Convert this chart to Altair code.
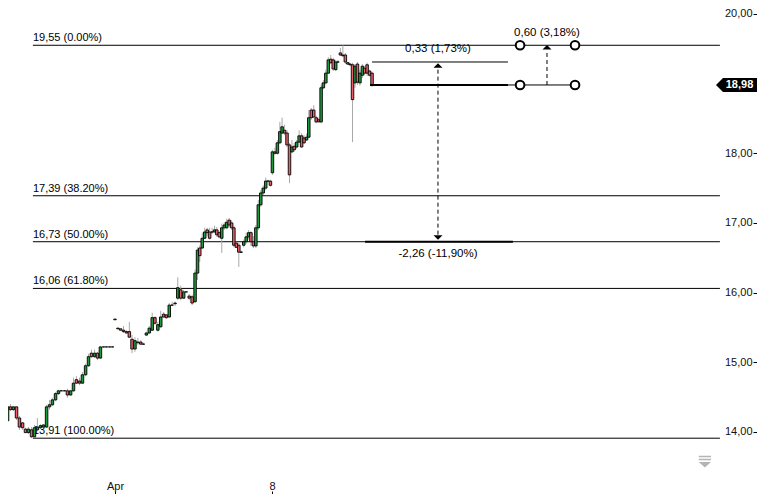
import altair as alt
import pandas as pd

# ---- candle data (time in days since Mar 26; Apr 1 = 6, Apr 8 = 13) ----
t = [0.94, 1.07, 1.21, 1.34, 1.47, 1.61, 1.74, 1.88, 2.01, 2.14,
     2.28, 2.41, 2.54, 2.68, 2.81, 2.95, 3.08, 3.21, 3.35, 3.48,
     3.61, 3.75, 3.88, 4.02, 4.15, 4.28, 4.42, 4.55, 4.69, 4.82,
     4.95, 5.09, 5.22, 5.35, 5.49, 5.62, 5.76, 5.89,
     6.00, 6.13, 6.25, 6.38, 6.51, 6.64, 6.76, 6.89, 7.02, 7.15,
     7.27, 7.40, 7.53, 7.66, 7.78, 7.91, 8.04, 8.17, 8.29, 8.42,
     8.55, 8.68, 8.80, 8.93, 9.06, 9.18, 9.31, 9.44, 9.57,
     9.68, 9.78, 9.89, 10.00, 10.11, 10.22, 10.33, 10.44, 10.54, 10.65,
     10.76, 10.87, 10.98, 11.09, 11.20, 11.30, 11.41, 11.52, 11.63, 11.74,
     11.85, 11.96, 12.06, 12.17, 12.28, 12.39, 12.50, 12.61, 12.72, 12.82, 12.93,
     13.02, 13.13, 13.24, 13.35, 13.45, 13.56, 13.67, 13.78, 13.89, 13.99,
     14.10, 14.21, 14.32, 14.43, 14.54, 14.64, 14.75, 14.86, 14.97, 15.08,
     15.19, 15.29, 15.40, 15.51, 15.62, 15.73, 15.84, 15.94, 16.05, 16.16,
     16.27, 16.38, 16.48, 16.59, 16.70, 16.81, 16.92, 17.03, 17.13, 17.24,
     17.35, 17.46, 17.57]

open_ = [14.11, 14.11, 14.16, 14.36, 14.32, 14.36, 14.20, 14.13, 14.04, 13.99,
         14.03, 13.93, 14.03, 14.06, 14.07, 14.07, 14.36, 14.39, 14.46, 14.55,
         14.59, 14.59, 14.59, 14.53, 14.59, 14.75, 14.73, 14.70, 14.82, 14.95,
         15.13, 15.08, 15.13, 15.06, 15.22, 15.22, 15.22, 15.22,
         15.62, 15.49, 15.48, 15.46, 15.44, 15.44, 15.33, 15.19, 15.28, 15.29,
         15.26, 15.39, 15.42, 15.46, 15.64, 15.46, 15.51, 15.69, 15.68, 15.65,
         15.82, 15.84, 15.92, 16.04, 15.92, 16.01, 15.95, 15.94, 15.87,
         16.28, 16.64, 16.64, 16.78, 16.90, 16.87, 16.87, 16.87, 16.90, 16.86,
         16.78, 16.93, 16.93, 17.04, 17.00, 16.93, 16.71, 16.68, 16.58, 16.68,
         16.73, 16.80, 16.86, 16.73, 16.67, 16.93, 17.26, 17.43, 17.50, 17.60, 17.60,
         17.72, 18.02, 18.00, 18.15, 18.29, 18.33, 18.29, 18.12, 18.02, 18.10,
         18.09, 18.16, 18.25, 18.22, 18.19, 18.23, 18.62, 18.62, 18.51, 18.48,
         18.45, 18.94, 19.01, 19.15, 19.35, 19.34, 19.20, 19.31, 19.44, 19.41,
         19.41, 19.30, 19.28, 19.27, 19.01, 19.28, 19.01, 19.12, 19.22, 19.27,
         19.18, 19.15, 18.98]

high = [14.11, 14.16, 14.40, 14.40, 14.37, 14.36, 14.23, 14.14, 14.06, 14.07,
        14.07, 14.10, 14.20, 14.11, 14.11, 14.39, 14.46, 14.49, 14.57, 14.60,
        14.60, 14.60, 14.62, 14.60, 14.78, 14.80, 14.78, 14.86, 14.98, 15.12,
        15.18, 15.18, 15.15, 15.23, 15.22, 15.22, 15.22, 15.22,
        15.62, 15.49, 15.48, 15.52, 15.46, 15.58, 15.39, 15.36, 15.35, 15.32,
        15.28, 15.44, 15.52, 15.71, 15.66, 15.58, 15.74, 15.72, 15.69, 15.85,
        15.87, 15.87, 16.22, 16.10, 16.04, 16.01, 15.98, 15.97, 16.33,
        16.65, 16.68, 16.86, 16.93, 16.93, 16.93, 16.93, 16.96, 16.94, 16.88,
        16.99, 17.01, 17.06, 17.07, 17.04, 16.96, 16.73, 16.71, 16.60, 16.76,
        16.86, 16.90, 16.88, 16.81, 16.97, 17.33, 17.47, 17.54, 17.65, 17.62, 17.62,
        18.05, 18.08, 18.19, 18.45, 18.51, 18.41, 18.33, 18.15, 18.19, 18.15,
        18.19, 18.33, 18.29, 18.26, 18.28, 18.62, 18.65, 18.69, 18.54, 18.51,
        18.98, 19.05, 19.20, 19.38, 19.41, 19.37, 19.34, 19.34, 19.51, 19.55,
        19.44, 19.31, 19.30, 19.30, 19.28, 19.31, 19.20, 19.28, 19.25, 19.30,
        19.20, 19.17, 18.98]

low = [14.11, 14.11, 14.16, 14.30, 14.30, 14.17, 14.03, 14.03, 13.99, 13.97,
       13.91, 13.91, 14.01, 14.04, 14.06, 14.06, 14.32, 14.37, 14.44, 14.53,
       14.59, 14.59, 14.49, 14.52, 14.57, 14.69, 14.67, 14.69, 14.80, 14.93,
       15.06, 15.06, 15.03, 15.05, 15.22, 15.22, 15.22, 15.22,
       15.61, 15.48, 15.46, 15.42, 15.41, 15.35, 15.13, 15.15, 15.25, 15.25,
       15.25, 15.38, 15.41, 15.45, 15.54, 15.44, 15.49, 15.64, 15.62, 15.64,
       15.81, 15.81, 15.89, 15.89, 15.91, 16.01, 15.89, 15.82, 15.85,
       16.18, 16.44, 16.63, 16.77, 16.81, 16.76, 16.84, 16.86, 16.80, 16.78,
       16.57, 16.90, 16.91, 16.94, 16.90, 16.65, 16.64, 16.37, 16.57, 16.65,
       16.70, 16.76, 16.67, 16.64, 16.64, 16.90, 17.23, 17.40, 17.47, 17.60, 17.52,
       17.69, 17.98, 17.98, 18.13, 18.28, 18.26, 18.09, 17.57, 18.00, 18.02,
       18.06, 18.15, 18.08, 18.13, 18.18, 18.22, 18.48, 18.51, 18.43, 18.45,
       18.43, 18.92, 18.99, 19.14, 19.28, 19.18, 19.18, 19.30, 19.40, 19.38,
       19.28, 19.27, 19.25, 18.16, 18.94, 18.98, 18.97, 19.08, 19.12, 19.11,
       19.10, 18.95, 18.98]

close = [14.11, 14.16, 14.36, 14.32, 14.36, 14.20, 14.07, 14.06, 13.99, 14.04,
         13.93, 14.06, 14.07, 14.09, 14.10, 14.36, 14.39, 14.46, 14.55, 14.59,
         14.59, 14.59, 14.53, 14.59, 14.70, 14.70, 14.70, 14.82, 14.95, 15.08,
         15.08, 15.13, 15.06, 15.22, 15.22, 15.22, 15.22, 15.22,
         15.61, 15.48, 15.46, 15.44, 15.42, 15.36, 15.19, 15.31, 15.29, 15.26,
         15.26, 15.42, 15.49, 15.64, 15.56, 15.54, 15.65, 15.65, 15.64, 15.82,
         15.82, 15.85, 16.07, 15.92, 16.01, 16.01, 15.92, 15.85, 16.28,
         16.61, 16.53, 16.78, 16.87, 16.86, 16.78, 16.87, 16.90, 16.83, 16.80,
         16.93, 16.97, 17.01, 16.97, 16.93, 16.68, 16.65, 16.58, 16.58, 16.73,
         16.80, 16.86, 16.73, 16.67, 16.93, 17.26, 17.43, 17.50, 17.60, 17.60, 17.54,
         18.02, 18.00, 18.15, 18.31, 18.38, 18.29, 18.12, 17.69, 18.09, 18.05,
         18.16, 18.25, 18.09, 18.15, 18.23, 18.51, 18.51, 18.52, 18.45, 18.45,
         18.94, 19.01, 19.15, 19.34, 19.30, 19.21, 19.31, 19.31, 19.41, 19.40,
         19.31, 19.28, 19.27, 18.77, 19.25, 19.02, 19.15, 19.25, 19.15, 19.15,
         19.12, 18.98, 18.98]

# ---- Fibonacci retracement levels ----
fib_levels = [19.55, 17.39, 16.73, 16.06, 13.91]
fib_labels = ["19,55 (0.00%)", "17,39 (38.20%)", "16,73 (50.00%)",
              "16,06 (61.80%)", "13,91 (100.00%)"]
fib_start, fib_end = 2.34, 32.97

# ---- measurement annotations ----
thick_x1 = [17.37, 17.15]
thick_x2 = [23.52, 23.74]
thick_y = [18.98, 16.73]
thin_x1 = [17.46, 23.52]
thin_x2 = [23.52, 26.51]
thin_y = [19.31, 18.98]
dash_x = [20.40, 25.26]
dash_y1 = [19.20, 18.98]
dash_y2 = [16.82, 19.45]
up_x = [20.40, 25.26]
up_y = [19.26, 19.52]
down_x = [20.40]
down_y = [16.79]
circ_x = [24.06, 26.51, 24.06, 26.51]
circ_y = [19.55, 19.55, 18.98, 18.98]
meas_text = ["0,33 (1,73%)", "0,60 (3,18%)", "-2,26 (-11,90%)"]
meas_x = [20.40, 25.26, 20.40]
meas_y = [19.31, 19.55, 16.73]
meas_dy = [-8, -7, 6]
meas_base = ["bottom", "bottom", "top"]
last_price = 18.98
last_label = "18,98"
tag_x = 33.71
icon_x, icon_y = 32.30, 13.57

W, H = 749, 486
FONT = "Liberation Sans"
GREEN, RED = "#1d9a3c", "#e8606a"

xs = alt.Scale(domain=[1.230, 34.623], nice=False, zero=False, padding=0)
ys = alt.Scale(domain=[13.109, 20.085], nice=False, zero=False, padding=0)
xaxis = alt.Axis(orient="top", offset=-H, values=[6, 13],
                 labelExpr="datum.value == 6 ? 'Apr' : '8'",
                 domain=False, ticks=True, tickSize=3, tickColor="black",
                 labelFont=FONT, labelFontSize=11, labelColor="#111",
                 labelPadding=0, grid=False, title=None)
yaxis = alt.Axis(orient="left", offset=-W, values=[14, 15, 16, 17, 18, 20],
                 labelExpr="replace(format(datum.value, '.2f'), '.', ',')",
                 domain=True, domainColor="black", domainWidth=1,
                 ticks=True, tickSize=4, tickColor="black",
                 labelFont=FONT, labelFontSize=11, labelColor="#111",
                 labelPadding=1, grid=False, title=None)


def X(f):
    return alt.X(f, type="quantitative", scale=xs, axis=xaxis)


def Y(f):
    return alt.Y(f, type="quantitative", scale=ys, axis=yaxis)


candles = pd.DataFrame(dict(t=t, open=open_, high=high, low=low, close=close))
fib = pd.DataFrame(dict(level=fib_levels, label=fib_labels,
                        x1=[fib_start] * 5, x2=[fib_end] * 5))
thick = pd.DataFrame(dict(x1=thick_x1, x2=thick_x2, y=thick_y))
thin = pd.DataFrame(dict(x1=thin_x1, x2=thin_x2, y=thin_y))
dash = pd.DataFrame(dict(x=dash_x, y1=dash_y1, y2=dash_y2))
ups = pd.DataFrame(dict(x=up_x, y=up_y))
downs = pd.DataFrame(dict(x=down_x, y=down_y))
circ = pd.DataFrame(dict(x=circ_x, y=circ_y))
mtext = pd.DataFrame(dict(label=meas_text, x=meas_x, y=meas_y))
tag = pd.DataFrame(dict(x=[tag_x], y=[last_price], label=[last_label]))
icon = pd.DataFrame(dict(x=[icon_x], y=[icon_y]))

fib_lines = alt.Chart(fib).mark_rule(color="black", strokeWidth=1).encode(
    x=X("x1"), x2=alt.X2("x2"), y=Y("level"))
fib_text = alt.Chart(fib).mark_text(align="left", baseline="bottom", dy=-2,
                                    font=FONT, fontSize=11, color="black").encode(
    x=X("x1"), y=Y("level"), text="label:N")

wicks = alt.Chart(candles).mark_rule(color="#a8a8a8", strokeWidth=1, clip=True).encode(
    x=X("t"), y=Y("low"), y2=alt.Y2("high"))
bodies = alt.Chart(candles).mark_bar(size=2.5, stroke="black", strokeWidth=0.9, clip=True).encode(
    x=X("t"), y=Y("open"), y2=alt.Y2("close"),
    color=alt.condition("datum.close >= datum.open", alt.value(GREEN), alt.value(RED)))

thick_l = alt.Chart(thick).mark_rule(color="black", strokeWidth=2).encode(
    x=X("x1"), x2=alt.X2("x2"), y=Y("y"))
thin_l = alt.Chart(thin).mark_rule(color="black", strokeWidth=1).encode(
    x=X("x1"), x2=alt.X2("x2"), y=Y("y"))
dash_l = alt.Chart(dash).mark_rule(color="black", strokeWidth=1, strokeDash=[4, 3]).encode(
    x=X("x"), y=Y("y1"), y2=alt.Y2("y2"))
up_m = alt.Chart(ups).mark_point(shape="M-0.9,0.45 L0.9,0.45 L0,-0.45 Z", filled=True,
                                 color="black", size=100, opacity=1).encode(x=X("x"), y=Y("y"))
down_m = alt.Chart(downs).mark_point(shape="M-0.9,-0.45 L0.9,-0.45 L0,0.45 Z", filled=True,
                                     color="black", size=100, opacity=1).encode(x=X("x"), y=Y("y"))
circ_m = alt.Chart(circ).mark_point(shape="circle", filled=True, fill="white", stroke="black",
                                    strokeWidth=2, size=75, opacity=1).encode(x=X("x"), y=Y("y"))

text_layers = []
for i in range(len(meas_text)):
    text_layers.append(
        alt.Chart(mtext.iloc[[i]]).mark_text(align="center", baseline=meas_base[i], dy=meas_dy[i],
                                            font=FONT, fontSize=11.5, color="black").encode(
            x=X("x"), y=Y("y"), text="label:N"))

tag_shape = alt.Chart(tag).mark_point(
    shape="M-1,0 L-0.66,-0.34 L1,-0.34 L1,0.34 L-0.66,0.34 Z",
    filled=True, color="black", size=1681, opacity=1).encode(x=X("x"), y=Y("y"))
tag_text = alt.Chart(tag).mark_text(font=FONT, fontSize=11, fontWeight="bold",
                                    color="white", align="center", baseline="middle", dx=3).encode(
    x=X("x"), y=Y("y"), text="label:N")
icon_m = alt.Chart(icon).mark_point(
    shape="M-1,-1 L1,-1 L1,-0.75 L-1,-0.75 Z M-1,-0.5 L1,-0.5 L1,-0.25 L-1,-0.25 Z M-1,0 L1,0 L0,0.9 Z",
    filled=True, color="#b5b5b5", size=150, opacity=1).encode(x=X("x"), y=Y("y"))

chart = alt.layer(
    fib_lines, fib_text, wicks, bodies, thick_l, thin_l, dash_l, up_m, down_m, circ_m,
    *text_layers, tag_shape, tag_text, icon_m
).properties(
    width=W, height=H, background="white", padding=0,
    autosize=alt.AutoSizeParams(type="none")
).configure_view(stroke=None)

chart.save("out.html", embed_options={"renderer": "svg", "actions": False})
